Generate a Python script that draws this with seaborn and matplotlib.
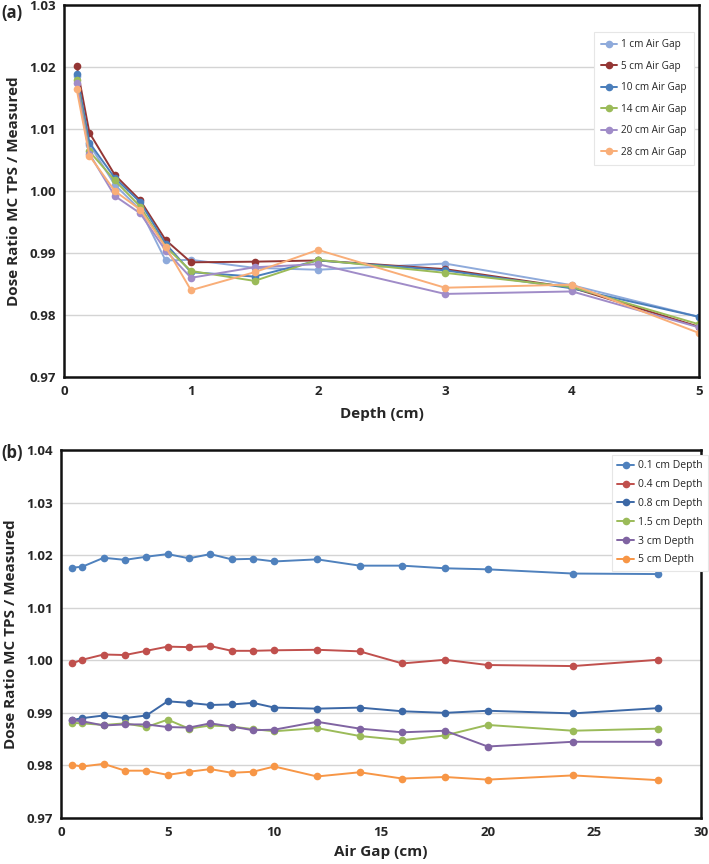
import numpy as np
import pandas as pd
import matplotlib
matplotlib.use("Agg")
import matplotlib.pyplot as plt
import seaborn as sns
from matplotlib.ticker import MultipleLocator

# ---- Panel (a) data ----
depths = [0.1, 0.2, 0.4, 0.6, 0.8, 1.0, 1.5, 2.0, 3.0, 4.0, 5.0]
gap_labels = ["1 cm Air Gap", "5 cm Air Gap", "10 cm Air Gap",
              "14 cm Air Gap", "20 cm Air Gap", "28 cm Air Gap"]
gap_1 = [1.0185, 1.0075, 1.0010, 0.9970, 0.9888, 0.9889, 0.9876, 0.9873, 0.9883, 0.9848, 0.9797]
gap_5 = [1.0202, 1.0094, 1.0026, 0.9985, 0.9921, 0.9885, 0.9886, 0.9888, 0.9874, 0.9844, 0.9781]
gap_10 = [1.0189, 1.0078, 1.0021, 0.9982, 0.9915, 0.9869, 0.9862, 0.9888, 0.9872, 0.9843, 0.9797]
gap_14 = [1.0179, 1.0064, 1.0017, 0.9975, 0.9910, 0.9871, 0.9855, 0.9889, 0.9868, 0.9845, 0.9785]
gap_20 = [1.0174, 1.0060, 0.9992, 0.9964, 0.9904, 0.9860, 0.9877, 0.9882, 0.9834, 0.9838, 0.9780]
gap_28 = [1.0164, 1.0057, 1.0000, 0.9970, 0.9910, 0.9840, 0.9869, 0.9905, 0.9844, 0.9849, 0.9771]
colors_a = ["#8EAADB", "#943634", "#4A7EBB", "#9BBB59", "#A08CC8", "#F9AE78"]

# ---- Panel (b) data ----
air_gaps = [0.5, 1, 2, 3, 4, 5, 6, 7, 8, 9, 10, 12, 14, 16, 18, 20, 24, 28]
depth_labels = ["0.1 cm Depth", "0.4 cm Depth", "0.8 cm Depth",
                "1.5 cm Depth", "3 cm Depth", "5 cm Depth"]
d_01 = [1.0176, 1.0178, 1.0195, 1.0191, 1.0197, 1.0202, 1.0194, 1.0202, 1.0192,
        1.0193, 1.0188, 1.0192, 1.0180, 1.0180, 1.0175, 1.0173, 1.0165, 1.0164]
d_04 = [0.9994, 1.0001, 1.0011, 1.0010, 1.0018, 1.0026, 1.0025, 1.0027, 1.0018,
        1.0018, 1.0019, 1.0020, 1.0017, 0.9994, 1.0001, 0.9991, 0.9989, 1.0001]
d_08 = [0.9886, 0.9890, 0.9895, 0.9890, 0.9895, 0.9922, 0.9919, 0.9915, 0.9916,
        0.9919, 0.9910, 0.9908, 0.9910, 0.9903, 0.9900, 0.9904, 0.9899, 0.9909]
d_15 = [0.9881, 0.9880, 0.9877, 0.9880, 0.9873, 0.9887, 0.9870, 0.9876, 0.9874,
        0.9869, 0.9865, 0.9871, 0.9856, 0.9848, 0.9857, 0.9877, 0.9866, 0.9870]
d_3 = [0.9886, 0.9884, 0.9876, 0.9878, 0.9878, 0.9873, 0.9872, 0.9880, 0.9874,
       0.9867, 0.9868, 0.9883, 0.9870, 0.9863, 0.9866, 0.9836, 0.9845, 0.9845]
d_5 = [0.9801, 0.9798, 0.9803, 0.9790, 0.9790, 0.9782, 0.9788, 0.9793, 0.9786,
       0.9788, 0.9798, 0.9779, 0.9787, 0.9775, 0.9778, 0.9773, 0.9781, 0.9772]
colors_b = ["#4F81BD", "#C0504D", "#3C68A6", "#9BBB59", "#8064A2", "#F79646"]

df_a = pd.concat([pd.DataFrame({"Depth": depths, "Ratio": v, "Series": lab})
                  for lab, v in zip(gap_labels, [gap_1, gap_5, gap_10, gap_14, gap_20, gap_28])])
df_b = pd.concat([pd.DataFrame({"AirGap": air_gaps, "Ratio": v, "Series": lab})
                  for lab, v in zip(depth_labels, [d_01, d_04, d_08, d_15, d_3, d_5])])

sns.set_style("white")
plt.rcParams["font.family"] = ["Open Sans", "DejaVu Sans"]

fig = plt.figure(figsize=(7.09, 8.64), dpi=100)
ax1 = fig.add_axes([64/709, 1-377/864, (699-64)/709, (377-5)/864])
ax2 = fig.add_axes([61/709, 1-818/864, (701-61)/709, (818-450)/864])

sns.lineplot(data=df_a, x="Depth", y="Ratio", hue="Series", palette=colors_a,
             marker="o", markersize=5.5, markeredgewidth=0, linewidth=1.4,
             ax=ax1, sort=False)
sns.lineplot(data=df_b, x="AirGap", y="Ratio", hue="Series", palette=colors_b,
             marker="o", markersize=5.5, markeredgewidth=0, linewidth=1.4,
             ax=ax2, sort=False)

def style(ax, xlim, ylim, xmajor, xminor, xlabel, letter):
    ax.set_xlim(*xlim)
    ax.set_ylim(*ylim)
    ax.xaxis.set_major_locator(MultipleLocator(xmajor))
    ax.xaxis.set_minor_locator(MultipleLocator(xminor))
    ax.yaxis.set_major_locator(MultipleLocator(0.01))
    ax.yaxis.set_minor_locator(MultipleLocator(0.002))
    ax.yaxis.set_major_formatter(matplotlib.ticker.FormatStrFormatter("%.2f"))
    ax.grid(axis="y", which="major", color="#d4d4d4", linewidth=1.0)
    ax.grid(axis="x", visible=False)
    ax.set_axisbelow(True)
    for s in ax.spines.values():
        s.set_visible(True)
        s.set_color("#111111")
        s.set_linewidth(1.8)
    ax.tick_params(axis="both", which="major", length=0, labelsize=9.5, pad=6)
    ax.tick_params(axis="both", which="minor", length=3, direction="in",
                   color="#bbbbbb", width=0.8)
    for lab in ax.get_xticklabels() + ax.get_yticklabels():
        lab.set_fontweight("bold")
    ax.set_xlabel(xlabel, fontsize=11, fontweight="bold")
    ax.set_ylabel("Dose Ratio MC TPS / Measured", fontsize=11, fontweight="bold", labelpad=6)

style(ax1, (0, 5), (0.97, 1.03), 1, 0.2, "Depth (cm)", "(a)")
style(ax2, (0, 30), (0.97, 1.04), 5, 1, "Air Gap (cm)", "(b)")
ax1.xaxis.labelpad = 6
ax2.xaxis.labelpad = 4

fig.text(1/709, 1-13/864, "(a)", fontsize=12, fontweight="bold", va="center", ha="left")
fig.text(1/709, 1-453/864, "(b)", fontsize=12, fontweight="bold", va="center", ha="left")

leg1 = ax1.legend(loc="upper left", bbox_to_anchor=(0.827, 0.94), fontsize=7.2,
                  frameon=True, framealpha=1, edgecolor="#e6e6e6", fancybox=False,
                  handlelength=1.6, handletextpad=0.4, labelspacing=1.05,
                  borderpad=0.7)
leg1.get_frame().set_linewidth(0.8)
leg2 = ax2.legend(loc="upper left", bbox_to_anchor=(0.853, 1.0), fontsize=7.5,
                  frameon=True, framealpha=1, edgecolor="#e6e6e6", fancybox=False,
                  handlelength=1.6, handletextpad=0.4, labelspacing=0.75,
                  borderpad=0.5)
leg2.get_frame().set_linewidth(0.8)

fig.savefig("out.png", dpi=100)
